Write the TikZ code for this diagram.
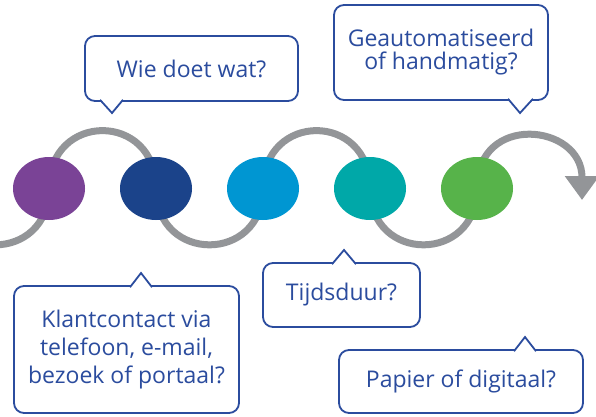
\documentclass[tikz,border=0pt]{standalone}
\usepackage{fontspec}
\setmainfont{Open Sans}
\usetikzlibrary{calc,shapes.geometric,arrows.meta,backgrounds}

\definecolor{wavegray}{HTML}{939598}
\definecolor{bubbleblue}{HTML}{2B4C9E}
\definecolor{dotpurple}{HTML}{7A4396}
\definecolor{dotnavy}{HTML}{1B438A}
\definecolor{dotsky}{HTML}{0096D2}
\definecolor{dotteal}{HTML}{00A8A8}
\definecolor{dotgreen}{HTML}{57B34A}

\begin{document}
\begin{tikzpicture}
    [   x=1pt,y=1pt,
        dot/.style={ellipse,fill=#1,minimum width=72pt,minimum height=63pt,inner sep=0pt},
        bubble/.style={draw=bubbleblue,line width=1.8pt,rounded corners=10pt,fill=white,
            text=bubbleblue,align=center,inner sep=0pt,outer sep=0pt,
            font=\fontsize{23}{28}\selectfont},
        tail/.style={draw=bubbleblue,fill=white,line width=1.8pt,line join=miter},
        hump/.style={out=90,in=90,looseness=1.85},
        dip/.style={out=-90,in=-90,looseness=1.8},
        wave/.style={color=wavegray,line width=7pt},
    ]
        \useasboundingbox (0,0) rectangle (596,416);

        % draw the dots
        \node[dot=dotpurple] (c1) at (49,227.5) {};
        \node[dot=dotnavy] (c2) at (156,227.5) {};
        \node[dot=dotsky] (c3) at (263,227.5) {};
        \node[dot=dotteal] (c4) at (370,227.5) {};
        \node[dot=dotgreen] (c5) at (477,227.5) {};
        \coordinate (w0) at (-58,227.5);
        \coordinate (w6) at (582,216);

        % draw the wave behind the dots
        \begin{scope}[on background layer]
            \clip (0,0) rectangle (596,416);
            \draw[wave,-{Triangle[width=33pt,length=24pt]}] (w0) to[dip] (c1.center)
                to[hump] (c2.center) to[dip] (c3.center) to[hump] (c4.center)
                to[dip] (c5.center) to[hump] (w6);
        \end{scope}

        % draw the bubbles
        \node[bubble,minimum width=213pt,minimum height=65pt] (wie) at (191.5,347.5) {Wie doet wat?};
        \node[bubble,minimum width=214pt,minimum height=95pt,font=\fontsize{23}{23}\selectfont]
            (geau) at (441,363.5) {Geautomatiseerd\\of handmatig?};
        \node[bubble,minimum width=225pt,minimum height=127pt] (klant) at (126.5,66.5)
            {Klantcontact via\\telefoon, e-mail,\\bezoek of portaal?};
        \node[bubble,minimum width=157pt,minimum height=64pt] (tijd) at (341.5,121) {Tijdsduur?};
        \node[bubble,minimum width=244pt,minimum height=63pt] (papier) at (461,34.5) {Papier of digitaal?};

        % draw the tails
        \filldraw[tail] ($(wie.south west)+(15,1.2)$) -- (112,303) -- ($(wie.south west)+(38,1.2)$);
        \filldraw[tail] ($(geau.south east)+(-40,1.2)$) -- (520,303) -- ($(geau.south east)+(-15,1.2)$);
        \filldraw[tail] ($(klant.north west)+(116,-1.2)$) -- (141,143) -- ($(klant.north west)+(138,-1.2)$);
        \filldraw[tail] ($(tijd.north west)+(69,-1.2)$) -- (344,166) -- ($(tijd.north west)+(93,-1.2)$);
        \filldraw[tail] ($(papier.north west)+(175,-1.2)$) -- (525,79) -- ($(papier.north west)+(197,-1.2)$);
    \end{tikzpicture}
\end{document}
